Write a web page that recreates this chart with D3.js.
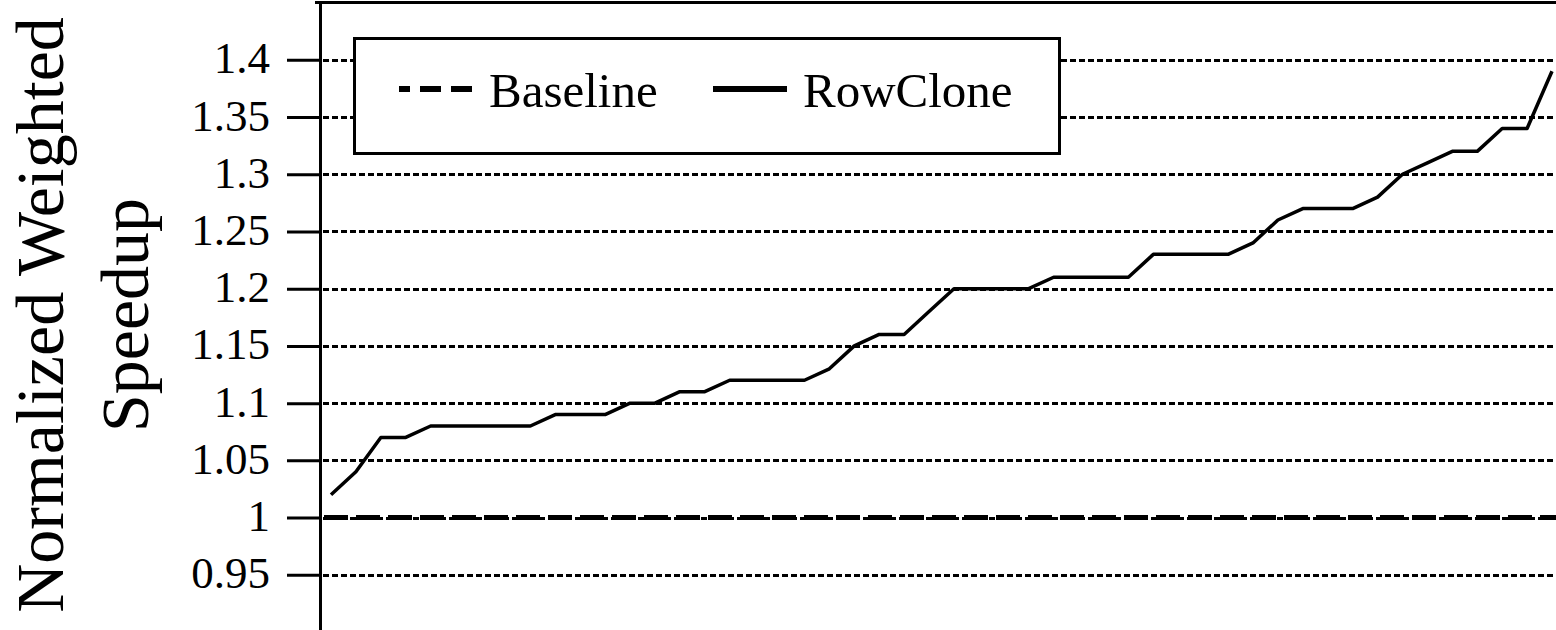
<!DOCTYPE html>
<html>
<head>
<meta charset="utf-8">
<script src="https://cdn.jsdelivr.net/npm/d3@7"></script>
<style>
  html, body { margin: 0; padding: 0; background: #fff; }
  svg { display: block; }
</style>
</head>
<body>
<svg id="chart" width="1556" height="630"></svg>
<script>
// Normalized weighted speedup per workload, sorted ascending
const workloads = d3.range(1, 51);
const rowCloneSpeedup = [
  1.02, 1.04, 1.07, 1.07, 1.08, 1.08, 1.08, 1.08, 1.08, 1.09,
  1.09, 1.09, 1.10, 1.10, 1.11, 1.11, 1.12, 1.12, 1.12, 1.12,
  1.13, 1.15, 1.16, 1.16, 1.18, 1.20, 1.20, 1.20, 1.20, 1.21,
  1.21, 1.21, 1.21, 1.23, 1.23, 1.23, 1.23, 1.24, 1.26, 1.27,
  1.27, 1.27, 1.28, 1.30, 1.31, 1.32, 1.32, 1.34, 1.34, 1.39
];
const baselineValue = 1.0;
const yTicks = [0.95, 1, 1.05, 1.1, 1.15, 1.2, 1.25, 1.3, 1.35, 1.4];
const yTickLabels = ["0.95", "1", "1.05", "1.1", "1.15", "1.2", "1.25", "1.3", "1.35", "1.4"];
const yDomain = [0.9, 1.45];
const seriesNames = ["Baseline", "RowClone"];
const yTitle = ["Normalized Weighted", "Speedup"];

const W = 1556, H = 630;
const axisX = 320;
const serif = "'Liberation Serif', 'Times New Roman', serif";

const svg = d3.select("#chart");

const y = d3.scaleLinear().domain(yDomain).range([632, 2.6]);
const x = d3.scalePoint().domain(workloads).range([331, 1552]);

// Horizontal dotted gridlines
svg.append("g")
  .selectAll("line")
  .data(yTicks)
  .join("line")
  .attr("x1", axisX + 3).attr("x2", W)
  .attr("y1", d => Math.round(y(d)) + 0.5).attr("y2", d => Math.round(y(d)) + 0.5)
  .attr("stroke", "#000")
  .attr("stroke-width", 3)
  .attr("shape-rendering", "crispEdges")
  .attr("stroke-dasharray", "6,3");

// Top frame line
svg.append("line")
  .attr("x1", axisX - 5).attr("x2", W)
  .attr("y1", y(yDomain[1])).attr("y2", y(yDomain[1]))
  .attr("stroke", "#000").attr("stroke-width", 3);

// Y axis
const yAxis = d3.axisLeft(y)
  .tickValues(yTicks)
  .tickFormat((d, i) => yTickLabels[i])
  .tickSize(33)
  .tickSizeOuter(0)
  .tickPadding(17);

const ga = svg.append("g")
  .attr("transform", `translate(${axisX},0)`)
  .call(yAxis);
ga.select(".domain").attr("stroke-width", 3);
ga.selectAll(".tick line").attr("stroke-width", 3);
ga.selectAll(".tick text")
  .attr("font-family", serif)
  .attr("font-size", 45)
  .attr("fill", "#000")
  .attr("dy", null)
  .attr("y", 13);

// Baseline reference (dashed)
svg.append("line")
  .attr("x1", axisX + 4).attr("x2", W)
  .attr("y1", y(baselineValue)).attr("y2", y(baselineValue))
  .attr("stroke", "#000")
  .attr("stroke-width", 5)
  .attr("stroke-dasharray", "24,8");

// RowClone speedup line
const line = d3.line()
  .x((d, i) => x(workloads[i]))
  .y(d => y(d));

svg.append("path")
  .datum(rowCloneSpeedup)
  .attr("d", line)
  .attr("fill", "none")
  .attr("stroke", "#000")
  .attr("stroke-width", 3.5)
  .attr("stroke-linejoin", "round");

// Y axis title (two lines, rotated)
const title = svg.append("text")
  .attr("transform", "translate(63,315) rotate(-90)")
  .attr("text-anchor", "middle")
  .attr("font-family", serif)
  .attr("font-size", 68)
  .attr("fill", "#000");
title.append("tspan").attr("x", 0).attr("y", 0).text(yTitle[0]);
title.append("tspan").attr("x", 0).attr("y", 85).text(yTitle[1]);

// Legend
const legend = svg.append("g");
legend.append("rect")
  .attr("x", 354.5).attr("y", 38.5)
  .attr("width", 705).attr("height", 115)
  .attr("fill", "#fff")
  .attr("stroke", "#000")
  .attr("stroke-width", 3);

legend.append("line")
  .attr("x1", 399).attr("x2", 473)
  .attr("y1", 89).attr("y2", 89)
  .attr("stroke", "#000").attr("stroke-width", 6)
  .attr("stroke-dasharray", "21,10")
  .attr("stroke-dashoffset", 10);
legend.append("text")
  .attr("x", 489).attr("y", 107)
  .attr("font-family", serif).attr("font-size", 49).attr("fill", "#000")
  .text(seriesNames[0]);

legend.append("line")
  .attr("x1", 713).attr("x2", 787)
  .attr("y1", 89).attr("y2", 89)
  .attr("stroke", "#000").attr("stroke-width", 6);
legend.append("text")
  .attr("x", 803).attr("y", 107)
  .attr("font-family", serif).attr("font-size", 49).attr("fill", "#000")
  .text(seriesNames[1]);
</script>
</body>
</html>
